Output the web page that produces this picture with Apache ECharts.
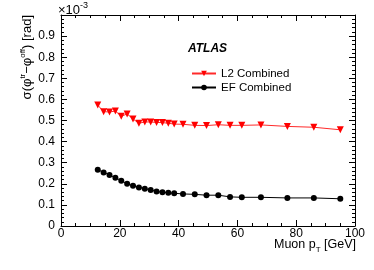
<!DOCTYPE html>
<html>
<head>
<meta charset="utf-8">
<script src="https://cdn.jsdelivr.net/npm/echarts@6/dist/echarts.min.js"></script>
<style>
html,body{margin:0;padding:0;background:#fff;}
#chart{width:374px;height:270px;}
</style>
</head>
<body>
<div id="chart"></div>
<script>
// Muon pT bin centres [GeV]
var muonPt = [12.5, 14.5, 16.5, 18.5, 20.5, 22.5, 24.5, 26.5, 28.5, 30.5, 32.5, 34.5, 36.5, 38.5, 41.5, 45.5, 49.5, 53.5, 57.5, 61.5, 68, 77, 86, 95];
// sigma(phi^tr - phi^off) in units of 1e-3 rad
var l2Combined = [0.573, 0.542, 0.540, 0.545, 0.520, 0.531, 0.507, 0.487, 0.493, 0.493, 0.491, 0.490, 0.487, 0.483, 0.482, 0.477, 0.476, 0.480, 0.477, 0.477, 0.479, 0.472, 0.468, 0.456];
var efCombined = [0.267, 0.254, 0.242, 0.229, 0.215, 0.200, 0.191, 0.183, 0.177, 0.171, 0.164, 0.160, 0.158, 0.155, 0.152, 0.150, 0.146, 0.146, 0.138, 0.136, 0.136, 0.133, 0.133, 0.129];
var seriesNames = ['L2 Combined', 'EF Combined'];
var xTicks = [0, 20, 40, 60, 80, 100];
var yTicks = [0, 0.1, 0.2, 0.3, 0.4, 0.5, 0.6, 0.7, 0.8, 0.9];

function pairs(xs, ys) { return xs.map(function (x, i) { return [x, ys[i]]; }); }

var FONT = 'Liberation Sans, Arial, Helvetica, sans-serif';
var chart = echarts.init(document.getElementById('chart'), null, {renderer: 'canvas'});

function baseAxis(extra) {
  var a = {
    type: 'value',
    axisLine: {show: true, onZero: false, lineStyle: {color: '#000', width: 1}},
    axisTick: {show: true, inside: true, length: 6, lineStyle: {color: '#000', width: 1}},
    minorTick: {show: true, length: 3, lineStyle: {color: '#000', width: 1}},
    splitLine: {show: false},
    minorSplitLine: {show: false}
  };
  for (var k in extra) a[k] = extra[k];
  return a;
}

var option = {
  animation: false,
  backgroundColor: '#fff',
  grid: {left: 61, right: 19, top: 15, bottom: 44, containLabel: false},
  xAxis: [
    baseAxis({
      position: 'bottom', min: 0, max: 100, interval: 20,
      minorTick: {show: true, splitNumber: 4, length: 3, lineStyle: {color: '#000', width: 1}},
      axisLabel: {
        show: true, margin: 2, fontSize: 12, color: '#000', fontFamily: FONT,
        formatter: function (v) { return xTicks.indexOf(v) >= 0 ? String(v) : ''; }
      }
    }),
    baseAxis({
      position: 'top', min: 0, max: 100, interval: 20,
      minorTick: {show: true, splitNumber: 4, length: 3, lineStyle: {color: '#000', width: 1}},
      axisLabel: {show: false}
    })
  ],
  yAxis: [
    baseAxis({
      position: 'left', min: 0, max: 1, interval: 0.1,
      minorTick: {show: true, splitNumber: 5, length: 3, lineStyle: {color: '#000', width: 1}},
      axisLabel: {
        show: true, margin: 6, fontSize: 12, color: '#000', fontFamily: FONT,
        formatter: function (v) {
          var r = Math.round(v * 10) / 10;
          if (r === 0) return '0';
          for (var i = 0; i < yTicks.length; i++) if (Math.abs(yTicks[i] - r) < 1e-9) return r.toFixed(1);
          return '';
        }
      }
    }),
    baseAxis({
      position: 'right', min: 0, max: 1, interval: 0.1,
      minorTick: {show: true, splitNumber: 5, length: 3, lineStyle: {color: '#000', width: 1}},
      axisLabel: {show: false}
    })
  ],
  legend: {
    left: 191, top: 67.5, orient: 'vertical', itemWidth: 24, itemHeight: 7, itemGap: 2, padding: 0,
    textStyle: {fontSize: 11.5, color: '#000', fontFamily: FONT},
    data: seriesNames
  },
  series: [
    {
      name: seriesNames[0], type: 'line', xAxisIndex: 0, yAxisIndex: 0,
      data: pairs(muonPt, l2Combined),
      symbol: 'triangle', symbolRotate: 180, symbolSize: 7,
      itemStyle: {color: '#ff0000'},
      lineStyle: {color: '#ff2a2a', width: 1}
    },
    {
      name: seriesNames[1], type: 'line', xAxisIndex: 0, yAxisIndex: 0,
      data: pairs(muonPt, efCombined),
      symbol: 'circle', symbolSize: 6,
      itemStyle: {color: '#000'},
      lineStyle: {color: '#000', width: 1}
    }
  ],
  graphic: [
    {
      type: 'text', left: 58, top: 1,
      style: {
        text: '{m|×10}{s|-3}', fontFamily: FONT,
        rich: {
          m: {fontSize: 13, fontFamily: FONT, fill: '#000', lineHeight: 16, verticalAlign: 'bottom'},
          s: {fontSize: 9, fontFamily: FONT, fill: '#000', lineHeight: 9, verticalAlign: 'top'}
        }
      }
    },
    {
      type: 'text', x: 188, y: 48.5,
      style: {
        text: 'ATLAS', fontSize: 12, fontWeight: 'bold', fontStyle: 'italic', fontFamily: FONT,
        fill: '#000', verticalAlign: 'middle', align: 'left'
      }
    },
    {
      type: 'text', x: 26, y: 15, rotation: Math.PI / 2,
      style: {
        text: '{m|σ(φ}{s|tr}{m|−φ}{s|off}{m|) [rad]}', fontFamily: FONT,
        align: 'right', verticalAlign: 'middle',
        rich: {
          m: {fontSize: 13, fontFamily: FONT, fill: '#000', lineHeight: 15, verticalAlign: 'bottom'},
          s: {fontSize: 8, fontFamily: FONT, fill: '#000', lineHeight: 8, verticalAlign: 'top'}
        }
      }
    },
    {
      type: 'text', x: 356, y: 246,
      style: {
        text: '{m|Muon p}{s|T}{m| [GeV]}', fontFamily: FONT,
        align: 'right', verticalAlign: 'middle',
        rich: {
          m: {fontSize: 12.5, fontFamily: FONT, fill: '#000', lineHeight: 15, verticalAlign: 'top'},
          s: {fontSize: 8, fontFamily: FONT, fill: '#000', lineHeight: 8, verticalAlign: 'bottom'}
        }
      }
    }
  ]
};
chart.setOption(option);
</script>
</body>
</html>
